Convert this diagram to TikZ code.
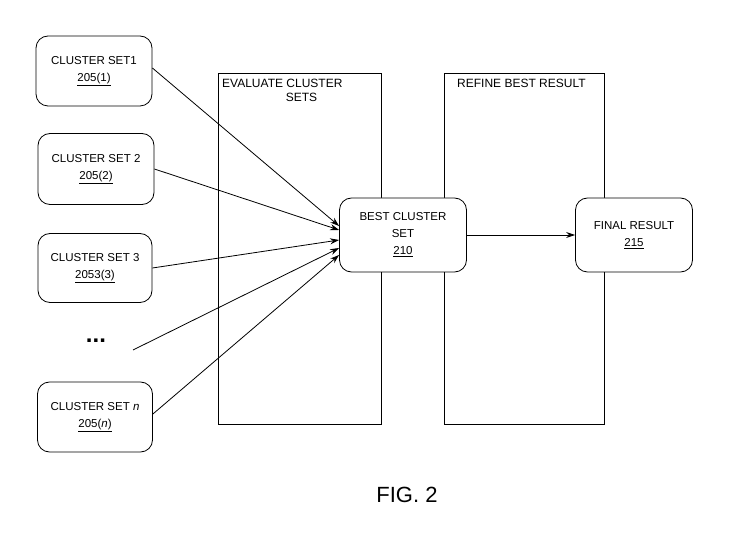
\documentclass[tikz,border=0pt]{standalone}
\usepackage{fontspec}
\setmainfont{Liberation Sans}
\usetikzlibrary{arrows.meta}
\begin{document}
\begin{tikzpicture}[x=1pt,y=-1pt,
  box/.style={draw,fill=white,rounded corners=12pt,line width=0.8pt,align=center,font=\fontsize{11.5}{17}\selectfont,inner sep=0pt},
  panel/.style={draw,line width=0.7pt},
  arr/.style={-{Stealth[length=9pt,width=6pt]},line width=0.8pt}]
\useasboundingbox (0,0) rectangle (748,540);
\draw[panel] (218,73) rectangle (381,424);
\draw[panel] (444,73) rectangle (604,424);
\node[anchor=north west,font=\fontsize{12}{14}\selectfont,align=left,inner sep=2pt] (t1) at (220,77) {EVALUATE CLUSTER\\\hspace*{5.3em}SETS};
\node[anchor=north west,font=\fontsize{12}{14}\selectfont,inner sep=2pt] (t2) at (455,77) {REFINE BEST RESULT};
\node[box,minimum width=116pt,minimum height=70pt] (c1) at (94,71) {CLUSTER SET1\\\underline{205(1)}};
\node[box,minimum width=116pt,minimum height=71pt] (c2) at (96,169) {CLUSTER SET 2\\\underline{205(2)}};
\node[box,minimum width=114pt,minimum height=69pt] (c3) at (95,268) {CLUSTER SET 3\\\underline{2053(3)}};
\node[font=\fontsize{24}{24}\selectfont\bfseries] (dots) at (96,341) {...};
\coordinate (d) at (133,350);
\node[box,minimum width=115pt,minimum height=70pt] (cn) at (95,417) {CLUSTER SET \textit{n}\\\underline{205(\textit{n})}};
\node[box,minimum width=127pt,minimum height=74pt] (b) at (403,235) {BEST CLUSTER\\SET\\\underline{210}};
\node[box,minimum width=117pt,minimum height=74pt] (f) at (634,235) {FINAL RESULT\\\underline{215}};
\draw[arr] (c1.east|-0,68) -- ([yshift=9pt]b.west);
\draw[arr] (c2.east) -- ([yshift=5pt]b.west);
\draw[arr] (c3.east) -- ([yshift=-5pt]b.west);
\draw[arr] (d) -- ([yshift=-13pt]b.west);
\draw[arr] (cn.east|-0,414) -- ([yshift=-20pt]b.west);
\draw[arr] (b.east) -- (f.west);
\node[font=\fontsize{22}{24}\selectfont] (fig) at (407,495) {FIG. 2};
\end{tikzpicture}
\end{document}
